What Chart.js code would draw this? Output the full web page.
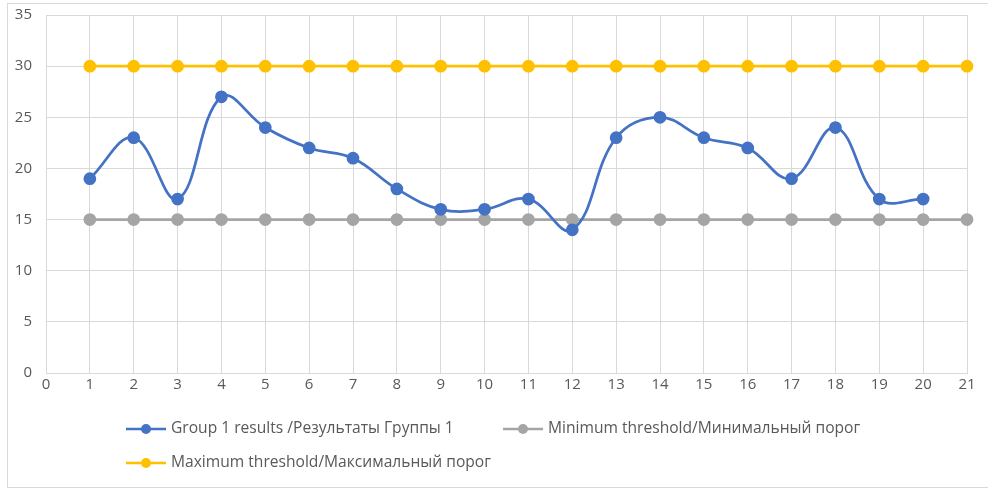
<!DOCTYPE html>
<html>
<head>
<meta charset="utf-8">
<script src="https://cdn.jsdelivr.net/npm/chart.js@4.4.1/dist/chart.umd.min.js"></script>
<style>
  html, body { margin: 0; padding: 0; background: #fff; }
  #wrap { width: 988px; height: 489px; position: relative; }
</style>
</head>
<body>
<div id="wrap"><canvas id="chart_groupResults"></canvas></div>
<script>
var xLabels = ['0', '1', '2', '3', '4', '5', '6', '7', '8', '9', '10',
               '11', '12', '13', '14', '15', '16', '17', '18', '19', '20', '21'];
var groupResults = [null, 19, 23, 17, 27, 24, 22, 21, 18, 16, 16,
                    17, 14, 23, 25, 23, 22, 19, 24, 17, 17, null];
var minThreshold = [null, 15, 15, 15, 15, 15, 15, 15, 15, 15, 15,
                    15, 15, 15, 15, 15, 15, 15, 15, 15, 15, 15];
var maxThreshold = [null, 30, 30, 30, 30, 30, 30, 30, 30, 30, 30,
                    30, 30, 30, 30, 30, 30, 30, 30, 30, 30, 30];
var seriesNames = [
    'Group 1 results /Результаты Группы 1',
    'Minimum threshold/Минимальный порог',
    'Maximum threshold/Максимальный порог'
];

var textColor = '#595959';
var gridColor = '#d9d9d9';
var fontFamily = '"Open Sans", "Noto Sans", sans-serif';

// white background + outer frame like the Excel chart box
var framePlugin = {
    id: 'frame',
    beforeDraw: function(chart) {
        var ctx = chart.ctx;
        ctx.save();
        ctx.fillStyle = 'white';
        ctx.fillRect(0, 0, chart.width, chart.height);
        ctx.strokeStyle = gridColor;
        ctx.lineWidth = 1;
        ctx.strokeRect(7.5, 3.5, chart.width + 10, chart.height - 5);
        ctx.restore();
    }
};

// Excel-style legend: line with marker, rows left aligned
var legendPlugin = {
    id: 'excelLegend',
    afterDraw: function(chart) {
        var ctx = chart.ctx;
        var area = chart.chartArea;
        var slots = [
            { x: area.left + 80, y: area.bottom + 56 },
            { x: area.left + 457, y: area.bottom + 56 },
            { x: area.left + 80, y: area.bottom + 90 }
        ];
        ctx.save();
        chart.data.datasets.forEach(function(ds, i) {
            var s = slots[i];
            ctx.strokeStyle = ds.borderColor;
            ctx.lineWidth = 2.5;
            ctx.beginPath();
            ctx.moveTo(s.x, s.y);
            ctx.lineTo(s.x + 40, s.y);
            ctx.stroke();
            ctx.fillStyle = ds.backgroundColor;
            ctx.beginPath();
            ctx.arc(s.x + 20, s.y, 5, 0, Math.PI * 2);
            ctx.fill();
            ctx.fillStyle = textColor;
            ctx.font = '15.6px ' + fontFamily;
            ctx.textBaseline = 'middle';
            ctx.textAlign = 'left';
            ctx.fillText(ds.label, s.x + 45, s.y);
        });
        ctx.restore();
    }
};

var chart_groupResults = new Chart(document.getElementById('chart_groupResults'), {
    type: 'line',
    data: {
        labels: xLabels,
        datasets: [
            {
                label: seriesNames[0],
                data: groupResults,
                borderColor: '#4472C4',
                backgroundColor: '#4472C4',
                borderWidth: 2.75,
                pointRadius: 5,
                pointHoverRadius: 5,
                tension: 0.4
            },
            {
                label: seriesNames[1],
                data: minThreshold,
                borderColor: '#A5A5A5',
                backgroundColor: '#A5A5A5',
                borderWidth: 2.75,
                pointRadius: 5,
                tension: 0
            },
            {
                label: seriesNames[2],
                data: maxThreshold,
                borderColor: '#FFC000',
                backgroundColor: '#FFC000',
                borderWidth: 2.75,
                pointRadius: 5,
                tension: 0
            }
        ]
    },
    options: {
        animation: false,
        responsive: true,
        maintainAspectRatio: false,
        layout: {
            padding: { left: 8, right: 21, top: 15, bottom: 86 }
        },
        plugins: {
            legend: { display: false },
            tooltip: { enabled: false }
        },
        scales: {
            x: {
                type: 'category',
                offset: false,
                grid: { color: gridColor, drawTicks: false },
                border: { color: gridColor },
                ticks: {
                    color: textColor,
                    font: { family: fontFamily, size: 15 },
                    padding: 3,
                    maxRotation: 0,
                    autoSkip: false
                },
                afterFit: function(scale) {
                    scale.height = 30;
                    scale.paddingLeft = 0;
                    scale.paddingRight = 0;
                }
            },
            y: {
                type: 'linear',
                min: 0,
                max: 35,
                grid: { color: gridColor, drawTicks: false },
                border: { display: false },
                ticks: {
                    stepSize: 5,
                    color: textColor,
                    font: { family: fontFamily, size: 15 },
                    padding: 14
                },
                afterFit: function(scale) {
                    scale.width = 38;
                    scale.paddingTop = 0;
                    scale.paddingBottom = 0;
                }
            }
        }
    },
    plugins: [framePlugin, legendPlugin]
});
</script>
</body>
</html>
